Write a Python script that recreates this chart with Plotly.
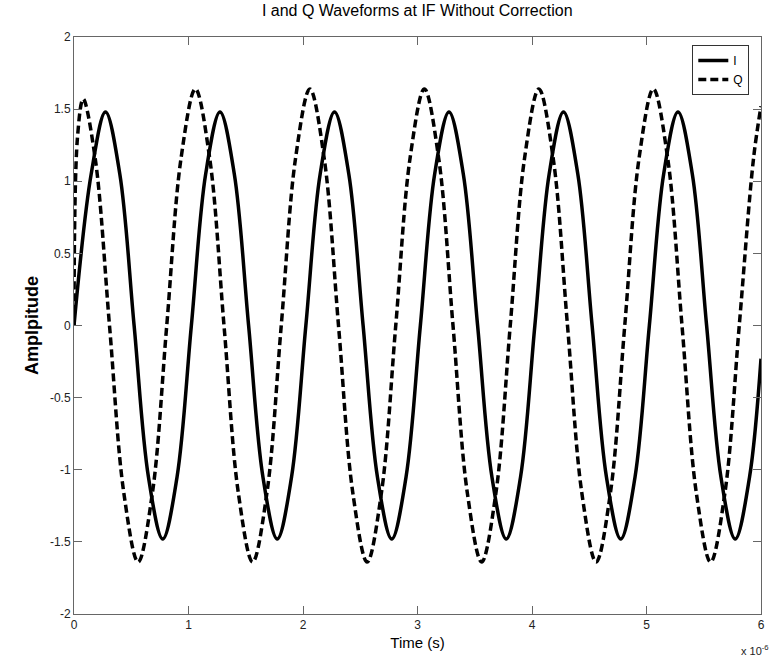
import plotly.graph_objects as go

# Time in units of 1e-6 s (display scaled as "x 10^-6")
t_i = [0.0,
       0.15, 0.275, 0.4, 0.525, 0.65, 0.775, 0.9, 1.025,
       1.15, 1.275, 1.4, 1.525, 1.65, 1.775, 1.9, 2.025,
       2.15, 2.275, 2.4, 2.525, 2.65, 2.775, 2.9, 3.025,
       3.15, 3.275, 3.4, 3.525, 3.65, 3.775, 3.9, 4.025,
       4.15, 4.275, 4.4, 4.525, 4.65, 4.775, 4.9, 5.025,
       5.15, 5.275, 5.4, 5.525, 5.65, 5.775, 5.9, 6.0]
i_vals = [0.0,
          1.05, 1.48, 1.05, 0.0, -1.05, -1.48, -1.05, 0.0,
          1.05, 1.48, 1.05, 0.0, -1.05, -1.48, -1.05, 0.0,
          1.05, 1.48, 1.05, 0.0, -1.05, -1.48, -1.05, 0.0,
          1.05, 1.48, 1.05, 0.0, -1.05, -1.48, -1.05, 0.0,
          1.05, 1.48, 1.05, 0.0, -1.05, -1.48, -1.05, 0.0,
          1.05, 1.48, 1.05, 0.0, -1.05, -1.48, -1.05, -0.23]

t_q = [0.0, 0.03, 0.08,
       0.185, 0.31, 0.435, 0.56, 0.685, 0.81, 0.935, 1.06,
       1.185, 1.31, 1.435, 1.56, 1.685, 1.81, 1.935, 2.06,
       2.185, 2.31, 2.435, 2.56, 2.685, 2.81, 2.935, 3.06,
       3.185, 3.31, 3.435, 3.56, 3.685, 3.81, 3.935, 4.06,
       4.185, 4.31, 4.435, 4.56, 4.685, 4.81, 4.935, 5.06,
       5.185, 5.31, 5.435, 5.56, 5.685, 5.81, 5.935, 6.0]
q_vals = [0.0, 1.3, 1.57,
          1.16, 0.0, -1.16, -1.64, -1.16, 0.0, 1.16, 1.64,
          1.16, 0.0, -1.16, -1.64, -1.16, 0.0, 1.16, 1.64,
          1.16, 0.0, -1.16, -1.64, -1.16, 0.0, 1.16, 1.64,
          1.16, 0.0, -1.16, -1.64, -1.16, 0.0, 1.16, 1.64,
          1.16, 0.0, -1.16, -1.64, -1.16, 0.0, 1.16, 1.64,
          1.16, 0.0, -1.16, -1.64, -1.16, 0.0, 1.16, 1.52]

x_ticks = [0, 1, 2, 3, 4, 5, 6]
x_ticklabels = ["0", "1", "2", "3", "4", "5", "6"]
y_ticks = [-2, -1.5, -1, -0.5, 0, 0.5, 1, 1.5, 2]
y_ticklabels = ["-2", "-1.5", "-1", "-0.5", "0", "0.5", "1", "1.5", "2"]

FONT = "Liberation Sans, Arial"

fig = go.Figure()
fig.add_trace(go.Scatter(x=t_i, y=i_vals, mode="lines", name="I",
                         line=dict(color="black", width=3.5, shape="spline", smoothing=1.0)))
fig.add_trace(go.Scatter(x=t_q, y=q_vals, mode="lines", name="Q",
                         line=dict(color="black", width=3.5, dash="8px,4px",
                                   shape="spline", smoothing=1.0)))

axis_common = dict(showgrid=False, zeroline=False, showline=True, linecolor="#666666",
                   linewidth=1, mirror="ticks", ticks="inside", ticklen=8,
                   tickcolor="#666666", tickfont=dict(family=FONT, size=12, color="#222222"))

fig.update_xaxes(range=[0, 6], tickmode="array", tickvals=x_ticks, ticktext=x_ticklabels,
                 title=dict(text="Time (s)", font=dict(family=FONT, size=15, color="black"),
                            standoff=6),
                 **axis_common)
fig.update_yaxes(range=[-2, 2], tickmode="array", tickvals=y_ticks, ticktext=y_ticklabels,
                 title=dict(text="<b>Amplpitude</b>", font=dict(family=FONT, size=18, color="black"),
                            standoff=6),
                 **axis_common)

fig.update_layout(
    width=777, height=662,
    margin=dict(l=74, r=16, t=37, b=48),
    paper_bgcolor="white", plot_bgcolor="white",
    title=dict(text="I and Q Waveforms at IF Without Correction", x=0.537, xanchor="center",
               y=0.992, yanchor="top",
               font=dict(family=FONT, size=16, color="black")),
    legend=dict(x=0.9, y=0.986, xanchor="left", yanchor="top", bgcolor="white",
                bordercolor="#333333", borderwidth=1,
                font=dict(family=FONT, size=12, color="black"),
                itemwidth=30, tracegroupgap=0),
    showlegend=True,
)

fig.add_annotation(text="x 10<sup>-6</sup>", xref="paper", yref="paper", x=0.991, y=-0.062,
                   xanchor="center", yanchor="middle", showarrow=False,
                   font=dict(family=FONT, size=11, color="#222222"))

fig.write_html("out.html", config={"displayModeBar": False},
               post_script="document.body.style.margin='0px';document.body.style.overflow='hidden';")
